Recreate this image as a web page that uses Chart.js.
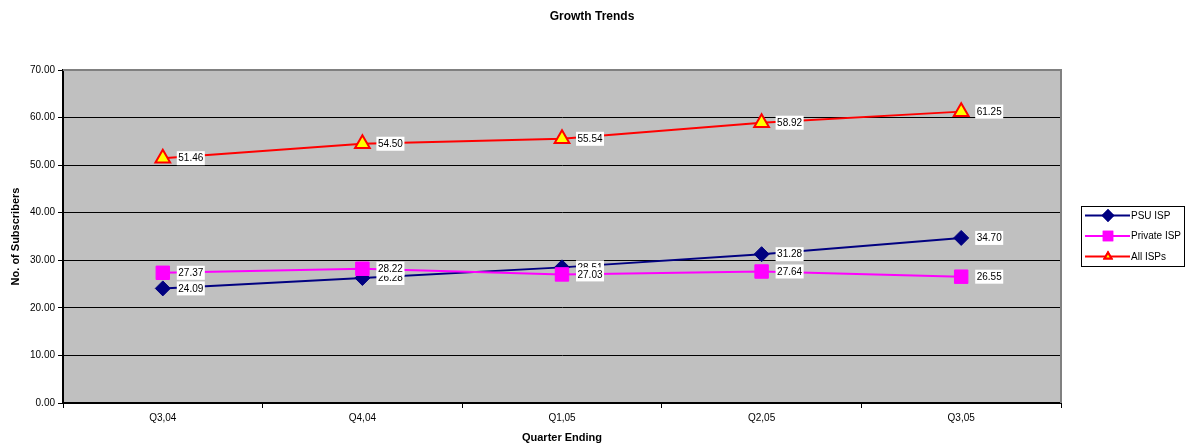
<!DOCTYPE html>
<html>
<head>
<meta charset="utf-8">
<script src="https://cdn.jsdelivr.net/npm/chart.js@4.4.1/dist/chart.umd.min.js"></script>
<style>
  html, body { margin: 0; padding: 0; background: #fff; }
  canvas { display: block; }
</style>
</head>
<body>
<canvas id="myChart" width="1185" height="447"></canvas>
<script>
const quarters = ["Q3,04", "Q4,04", "Q1,05", "Q2,05", "Q3,05"];
const psuIsp = [24.09, 26.28, 28.51, 31.28, 34.70];
const privateIsp = [27.37, 28.22, 27.03, 27.64, 26.55];
const allIsps = [51.46, 54.50, 55.54, 58.92, 61.25];
const yTicks = [0, 10, 20, 30, 40, 50, 60, 70];

const FONT = "Arial, 'Liberation Sans', sans-serif";

// plot background + gray top/right frame
const plotArea = {
  id: "plotArea",
  beforeDraw(chart) {
    const { ctx, chartArea: a } = chart;
    ctx.save();
    ctx.fillStyle = "#c0c0c0";
    ctx.fillRect(a.left, a.top, a.right - a.left, a.bottom - a.top);
    ctx.restore();
  },
  beforeDatasetsDraw(chart) {
    const { ctx, chartArea: a } = chart;
    ctx.save();
    ctx.strokeStyle = "#808080";
    ctx.lineWidth = 2;
    ctx.beginPath();
    ctx.moveTo(a.left, a.top);
    ctx.lineTo(a.right, a.top);
    ctx.lineTo(a.right, a.bottom);
    ctx.stroke();
    ctx.restore();
  }
};

// value labels in white boxes right of each point
const valueLabels = {
  id: "valueLabels",
  afterDatasetsDraw(chart) {
    const ctx = chart.ctx;
    ctx.save();
    ctx.font = "10px " + FONT;
    ctx.textBaseline = "middle";
    chart.data.datasets.forEach((ds, i) => {
      const meta = chart.getDatasetMeta(i);
      meta.data.forEach((pt, j) => {
        const txt = ds.data[j].toFixed(2);
        const w = ctx.measureText(txt).width;
        const x = pt.x + 14;
        ctx.fillStyle = "#fff";
        ctx.fillRect(x, pt.y - 7, w + 3, 14);
        ctx.fillStyle = "#000";
        ctx.fillText(txt, x + 1.5, pt.y + 0.5);
      });
    });
    ctx.restore();
  }
};

// Excel-style legend box on the right
const sideLegend = {
  id: "sideLegend",
  afterDraw(chart) {
    const ctx = chart.ctx;
    const left = 1081, top = 206, w = 103, h = 60;
    ctx.save();
    ctx.fillStyle = "#fff";
    ctx.fillRect(left, top, w, h);
    ctx.strokeStyle = "#000";
    ctx.lineWidth = 1;
    ctx.strokeRect(left + 0.5, top + 0.5, w, h);
    ctx.font = "10px " + FONT;
    ctx.textBaseline = "middle";
    chart.data.datasets.forEach((ds, i) => {
      const y = top + 9.5 + i * 20.5;
      ctx.strokeStyle = ds.borderColor;
      ctx.lineWidth = 2;
      ctx.beginPath();
      ctx.moveTo(left + 4, y);
      ctx.lineTo(left + 49, y);
      ctx.stroke();
      Chart.helpers.drawPoint(ctx, {
        pointStyle: ds.pointStyle,
        radius: ds.legendRadius,
        borderWidth: 1
      }, left + 27, y);
      ctx.fillStyle = ds.pointBackgroundColor;
      ctx.strokeStyle = ds.pointBorderColor;
      ctx.fill();
      ctx.stroke();
      ctx.fillStyle = "#000";
      ctx.fillText(ds.label, left + 50, y + 0.5);
    });
    ctx.restore();
  }
};

// chart title drawn at top centre
const topTitle = {
  id: "topTitle",
  afterDraw(chart) {
    const ctx = chart.ctx;
    ctx.save();
    ctx.font = "bold 12px " + FONT;
    ctx.fillStyle = "#000";
    ctx.textAlign = "center";
    ctx.textBaseline = "middle";
    ctx.fillText("Growth Trends", 592, 17);
    ctx.restore();
  }
};

const data = {
  labels: quarters,
  datasets: [
    {
      label: "PSU ISP",
      data: psuIsp,
      borderColor: "#000080",
      backgroundColor: "#000080",
      pointBackgroundColor: "#000080",
      pointBorderColor: "#000080",
      pointStyle: "rectRot",
      pointRadius: 7.5,
      legendRadius: 5,
      order: 3
    },
    {
      label: "Private ISP",
      data: privateIsp,
      borderColor: "#ff00ff",
      backgroundColor: "#ff00ff",
      pointBackgroundColor: "#ff00ff",
      pointBorderColor: "#ff00ff",
      pointStyle: "rect",
      pointRadius: 9.5,
      legendRadius: 6,
      order: 2
    },
    {
      label: "All ISPs",
      data: allIsps,
      borderColor: "#ff0000",
      backgroundColor: "#ff0000",
      pointBackgroundColor: "#ffff00",
      pointBorderColor: "#ff0000",
      pointBorderWidth: 2,
      pointStyle: "triangle",
      pointRadius: 8.5,
      legendRadius: 4,
      order: 1
    }
  ]
};

const config = {
  type: "line",
  data: data,
  options: {
    responsive: false,
    animation: false,
    devicePixelRatio: 1,
    layout: { padding: { top: 70, right: 124, left: 0, bottom: 0 } },
    elements: {
      line: { borderWidth: 2, tension: 0 },
      point: { borderWidth: 1, hoverRadius: 8 }
    },
    plugins: {
      legend: { display: false },
      title: { display: false },
      tooltip: { enabled: false }
    },
    scales: {
      x: {
        offset: true,
        afterFit: (s) => { s.height = 44; },
        grid: { drawOnChartArea: false, drawTicks: true, tickLength: 5, color: "#000", offset: true },
        border: { color: "#000", width: 2 },
        ticks: { color: "#000", font: { family: FONT, size: 10 }, padding: 4, maxRotation: 0 },
        title: {
          display: true,
          text: "Quarter Ending",
          color: "#000",
          font: { family: FONT, size: 11, weight: "bold" },
          padding: { top: 0, bottom: 2 }
        }
      },
      y: {
        min: 0,
        max: 70,
        afterFit: (s) => { s.width = 63; },
        afterBuildTicks: (s) => { s.ticks = yTicks.map(v => ({ value: v })); },
        grid: { color: "#000", lineWidth: 1, drawTicks: true, tickLength: 5 },
        border: { color: "#000", width: 2 },
        ticks: {
          color: "#000",
          font: { family: FONT, size: 10 },
          padding: 3,
          callback: (v) => Number(v).toFixed(2)
        },
        title: {
          display: true,
          text: "No. of Subscribers",
          color: "#000",
          font: { family: FONT, size: 11, weight: "bold" },
          padding: { top: 9, bottom: 0 }
        }
      }
    }
  },
  plugins: [plotArea, valueLabels, sideLegend, topTitle]
};

var myChart = new Chart(document.getElementById("myChart"), config);
</script>
</body>
</html>
